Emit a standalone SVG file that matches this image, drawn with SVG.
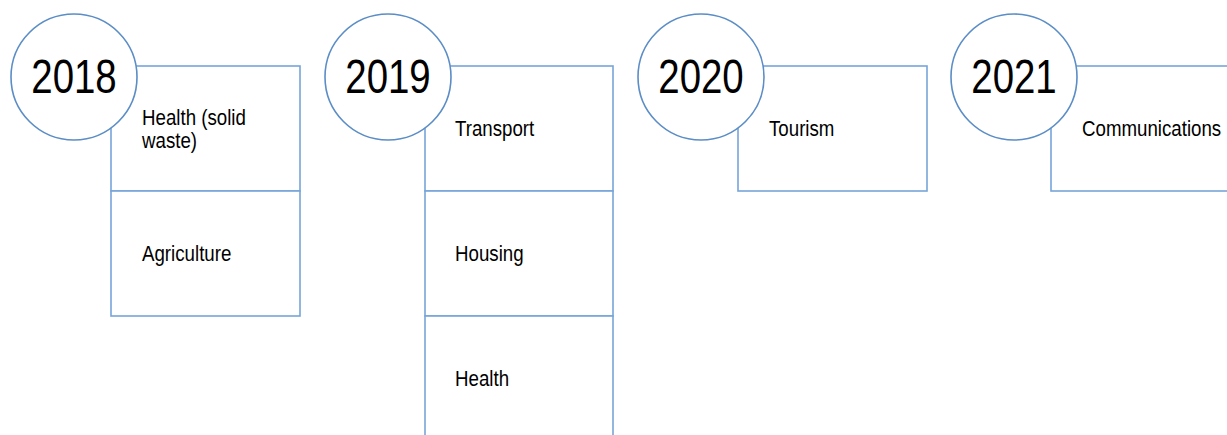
<svg xmlns="http://www.w3.org/2000/svg" width="1227" height="435" viewBox="0 0 1227 435">
  <style>
    .cell { fill: #ffffff; stroke: #76a5da; stroke-width: 1.6; }
    .year { fill: #ffffff; stroke: #5b8dc6; stroke-width: 1.6; }
    .ytxt { font-family: "Liberation Sans", Arial, sans-serif; font-size: 48px; fill: #000000; text-anchor: middle; }
    .lbl { font-family: "Liberation Sans", Arial, sans-serif; font-size: 22px; fill: #000000; }
  </style>
  <rect width="1227" height="435" fill="#ffffff"/>

  <!-- 2018 -->
  <g id="y2018">
    <rect class="cell" x="111" y="66" width="189" height="125"/>
    <rect class="cell" x="111" y="191" width="189" height="125"/>
    <text class="lbl" transform="translate(142,124.5) scale(0.85,1)">Health (solid</text>
    <text class="lbl" transform="translate(142,147.5) scale(0.85,1)">waste)</text>
    <text class="lbl" transform="translate(142,260.5) scale(0.85,1)">Agriculture</text>
    <circle class="year" cx="74" cy="77" r="63"/>
    <text class="ytxt" transform="translate(74,93) scale(0.8,1)">2018</text>
  </g>

  <!-- 2019 -->
  <g id="y2019">
    <rect class="cell" x="425" y="66" width="188" height="125"/>
    <rect class="cell" x="425" y="191" width="188" height="125"/>
    <rect class="cell" x="425" y="316" width="188" height="125"/>
    <text class="lbl" transform="translate(455,135.5) scale(0.85,1)">Transport</text>
    <text class="lbl" transform="translate(455,261) scale(0.85,1)">Housing</text>
    <text class="lbl" transform="translate(455,386) scale(0.85,1)">Health</text>
    <circle class="year" cx="388" cy="77" r="63"/>
    <text class="ytxt" transform="translate(388,93) scale(0.8,1)">2019</text>
  </g>

  <!-- 2020 -->
  <g id="y2020">
    <rect class="cell" x="738" y="66" width="189" height="125"/>
    <text class="lbl" transform="translate(769,135.5) scale(0.85,1)">Tourism</text>
    <circle class="year" cx="701" cy="77" r="63"/>
    <text class="ytxt" transform="translate(701,93) scale(0.8,1)">2020</text>
  </g>

  <!-- 2021 -->
  <g id="y2021">
    <rect class="cell" x="1051" y="66" width="189" height="125"/>
    <text class="lbl" transform="translate(1082,135.5) scale(0.85,1)">Communications</text>
    <circle class="year" cx="1014" cy="77" r="63"/>
    <text class="ytxt" transform="translate(1014,93) scale(0.8,1)">2021</text>
  </g>

  <g id="connectors"/>
</svg>
